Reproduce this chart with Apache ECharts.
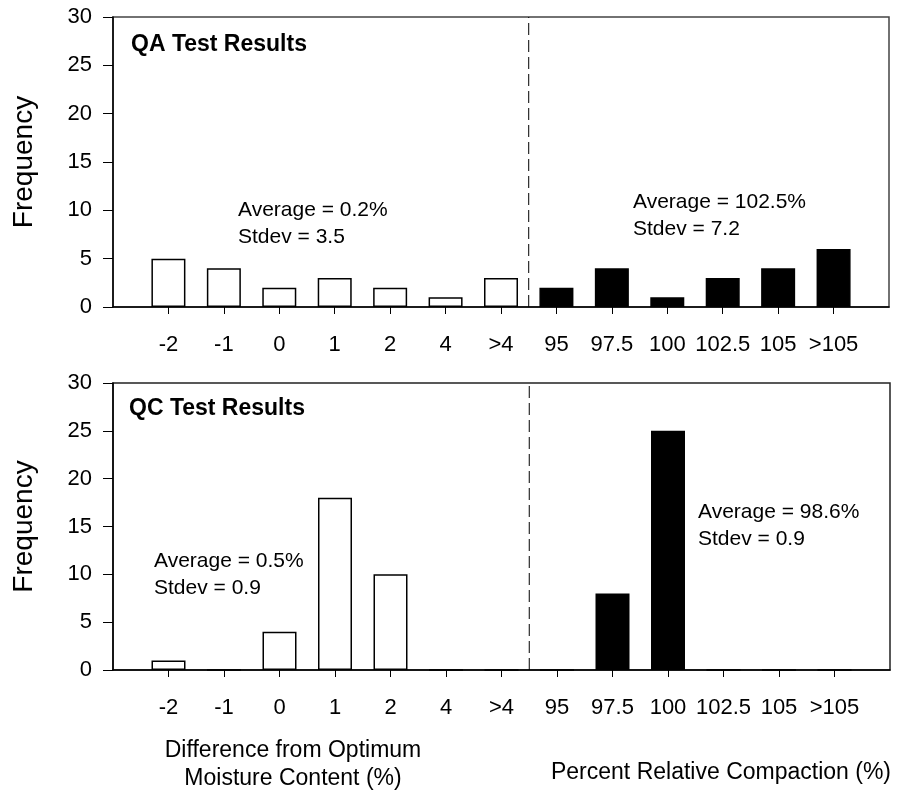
<!DOCTYPE html>
<html>
<head>
<meta charset="utf-8">
<script src="https://cdn.jsdelivr.net/npm/echarts@6/dist/echarts.min.js"></script>
<style>
  html, body { margin: 0; padding: 0; background: #fff; }
  #chart { width: 898px; height: 795px; }
</style>
</head>
<body>
<div id="chart"></div>
<script>
// categories (padded with empty slots at both ends)
var categories = ['', '-2', '-1', '0', '1', '2', '4', '>4', '95', '97.5', '100', '102.5', '105', '>105', ''];
// QA test results
var qaMoisture   = ['-', 5, 4, 2, 3, 2, 1, 3, '-', '-', '-', '-', '-', '-', '-'];
var qaCompaction = ['-', '-', '-', '-', '-', '-', '-', '-', 2, 4, 1, 3, 4, 6, '-'];
// QC test results
var qcMoisture   = ['-', 1, 0, 4, 18, 10, 0, 0, '-', '-', '-', '-', '-', '-', '-'];
var qcCompaction = ['-', '-', '-', '-', '-', '-', '-', '-', 0, 8, 25, 0, 0, 0, '-'];
// divider between the two groups
var dividerX = 7.5;
var yRange = [0, 30];

var FONT = 'Liberation Sans, Arial, sans-serif';
var chart = echarts.init(document.getElementById('chart'));

function catAxis(gridIndex) {
    return {
        type: 'category',
        gridIndex: gridIndex,
        data: categories,
        boundaryGap: false,
        axisLine: { lineStyle: { color: '#000', width: 1.5 } },
        axisTick: {
            length: 7,
            interval: function (i) { return i > 0 && i < categories.length - 1; },
            lineStyle: { color: '#000', width: 1 }
        },
        axisLabel: { interval: 0, color: '#000', fontFamily: FONT, fontSize: 22, margin: 27 },
        splitLine: { show: false }
    };
}
function divAxis(gridIndex) {
    return { type: 'value', gridIndex: gridIndex, min: 0, max: categories.length - 1, show: false };
}
function valAxis(gridIndex) {
    return {
        type: 'value',
        gridIndex: gridIndex,
        min: 0, max: 30, interval: 5,
        name: 'Frequency',
        nameLocation: 'middle',
        nameGap: 75,
        nameTextStyle: { fontFamily: FONT, fontSize: 28, color: '#000' },
        axisLine: { show: true, lineStyle: { color: '#000', width: 1.5 } },
        axisTick: { show: true, length: 10, lineStyle: { color: '#000', width: 1 } },
        axisLabel: { color: '#000', fontFamily: FONT, fontSize: 22, margin: 21 },
        splitLine: { show: false }
    };
}
function barSeries(gridIndex, data, fill) {
    return {
        type: 'bar',
        xAxisIndex: gridIndex * 2,
        yAxisIndex: gridIndex,
        data: data,
        barWidth: 34,
        barGap: '-100%',
        itemStyle: { color: fill, borderColor: '#000', borderWidth: 1.5 },
        silent: true
    };
}
function dividerSeries(gridIndex) {
    return {
        type: 'line',
        xAxisIndex: gridIndex * 2 + 1,
        yAxisIndex: gridIndex,
        data: [[dividerX, yRange[0]], [dividerX, yRange[1]]],
        symbol: 'none',
        lineStyle: { color: '#000', width: 1, type: [12, 5] },
        silent: true
    };
}
function note(x, y, text, size, bold) {
    return {
        type: 'text', x: x, y: y,
        style: { text: text, fill: '#000', font: (bold ? 'bold ' : '') + size + 'px ' + FONT,
                 lineHeight: 27, verticalAlign: 'middle' }
    };
}

var option = {
    animation: false,
    backgroundColor: '#fff',
    grid: [
        { left: 113, top: 17, right: 9, height: 290, show: true, borderColor: '#444', borderWidth: 1.5 },
        { left: 113, top: 383, right: 8, height: 287, show: true, borderColor: '#222', borderWidth: 1.5 }
    ],
    xAxis: [catAxis(0), divAxis(0), catAxis(1), divAxis(1)],
    yAxis: [valAxis(0), valAxis(1)],
    series: [
        barSeries(0, qaMoisture, '#fff'),
        barSeries(0, qaCompaction, '#000'),
        dividerSeries(0),
        barSeries(1, qcMoisture, '#fff'),
        barSeries(1, qcCompaction, '#000'),
        dividerSeries(1)
    ],
    graphic: [
        note(131, 45, 'QA Test Results', 23, true),
        note(129, 409, 'QC Test Results', 23, true),
        note(238, 224, 'Average = 0.2%\nStdev = 3.5', 21),
        note(633, 216, 'Average = 102.5%\nStdev = 7.2', 21),
        note(154, 575, 'Average = 0.5%\nStdev = 0.9', 21),
        note(698, 526, 'Average = 98.6%\nStdev = 0.9', 21),
        {
            type: 'text', x: 293, y: 765,
            style: { text: 'Difference from Optimum\nMoisture Content (%)', fill: '#000',
                     font: '23px ' + FONT, align: 'center', verticalAlign: 'middle', lineHeight: 28 }
        },
        {
            type: 'text', x: 721, y: 773,
            style: { text: 'Percent Relative Compaction (%)', fill: '#000', font: '23px ' + FONT,
                     align: 'center', verticalAlign: 'middle' }
        }
    ]
};
chart.setOption(option);
</script>
</body>
</html>
